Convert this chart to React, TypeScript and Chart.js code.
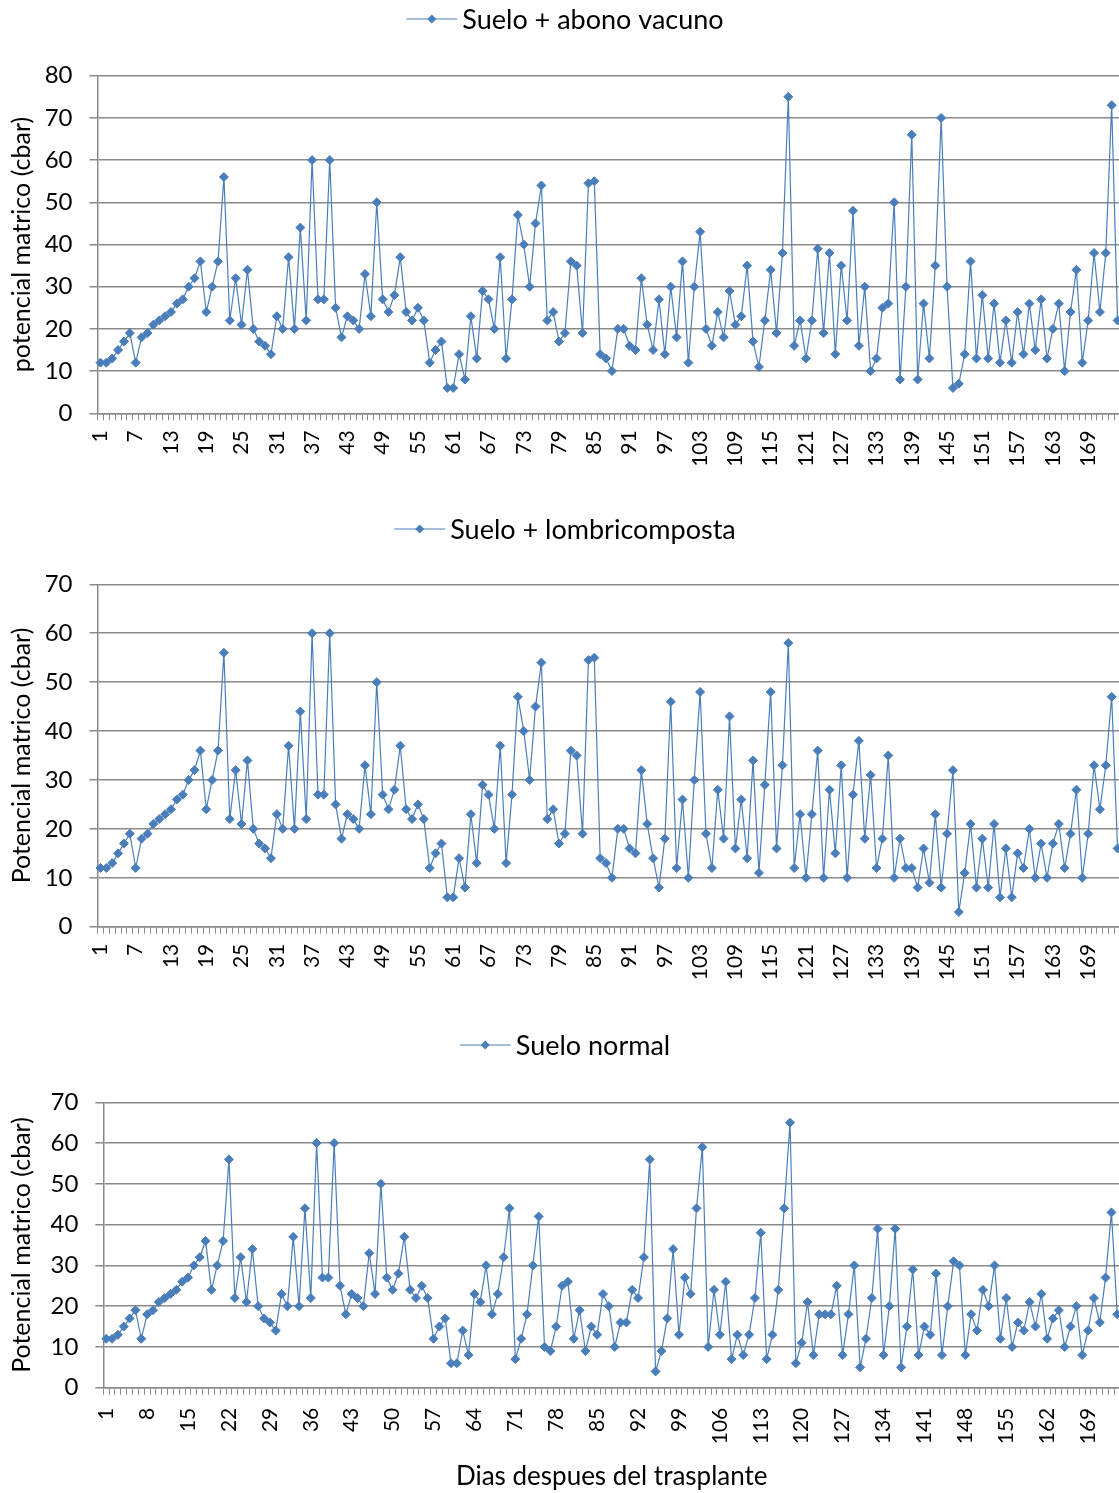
import React, { useEffect, useRef } from 'react';
import { Chart, registerables } from 'chart.js';

Chart.register(...registerables);

// Categories: days after transplant (174 visible)
const days: string[] = Array.from({ length: 174 }, (_, i) => String(i + 1));

const abonoVacuno: number[] = [
  12, 12, 13, 15, 17, 19, 12, 18, 19, 21,
  22, 23, 24, 26, 27, 30, 32, 36, 24, 30,
  36, 56, 22, 32, 21, 34, 20, 17, 16, 14,
  23, 20, 37, 20, 44, 22, 60, 27, 27, 60,
  25, 18, 23, 22, 20, 33, 23, 50, 27, 24,
  28, 37, 24, 22, 25, 22, 12, 15, 17, 6,
  6, 14, 8, 23, 13, 29, 27, 20, 37, 13,
  27, 47, 40, 30, 45, 54, 22, 24, 17, 19,
  36, 35, 19, 54.5, 55, 14, 13, 10, 20, 20,
  16, 15, 32, 21, 15, 27, 14, 30, 18, 36,
  12, 30, 43, 20, 16, 24, 18, 29, 21, 23,
  35, 17, 11, 22, 34, 19, 38, 75, 16, 22,
  13, 22, 39, 19, 38, 14, 35, 22, 48, 16,
  30, 10, 13, 25, 26, 50, 8, 30, 66, 8,
  26, 13, 35, 70, 30, 6, 7, 14, 36, 13,
  28, 13, 26, 12, 22, 12, 24, 14, 26, 15,
  27, 13, 20, 26, 10, 24, 34, 12, 22, 38,
  24, 38, 73, 22,
];

const lombricomposta: number[] = [
  12, 12, 13, 15, 17, 19, 12, 18, 19, 21,
  22, 23, 24, 26, 27, 30, 32, 36, 24, 30,
  36, 56, 22, 32, 21, 34, 20, 17, 16, 14,
  23, 20, 37, 20, 44, 22, 60, 27, 27, 60,
  25, 18, 23, 22, 20, 33, 23, 50, 27, 24,
  28, 37, 24, 22, 25, 22, 12, 15, 17, 6,
  6, 14, 8, 23, 13, 29, 27, 20, 37, 13,
  27, 47, 40, 30, 45, 54, 22, 24, 17, 19,
  36, 35, 19, 54.5, 55, 14, 13, 10, 20, 20,
  16, 15, 32, 21, 14, 8, 18, 46, 12, 26,
  10, 30, 48, 19, 12, 28, 18, 43, 16, 26,
  14, 34, 11, 29, 48, 16, 33, 58, 12, 23,
  10, 23, 36, 10, 28, 15, 33, 10, 27, 38,
  18, 31, 12, 18, 35, 10, 18, 12, 12, 8,
  16, 9, 23, 8, 19, 32, 3, 11, 21, 8,
  18, 8, 21, 6, 16, 6, 15, 12, 20, 10,
  17, 10, 17, 21, 12, 19, 28, 10, 19, 33,
  24, 33, 47, 16,
];

const sueloNormal: number[] = [
  12, 12, 13, 15, 17, 19, 12, 18, 19, 21,
  22, 23, 24, 26, 27, 30, 32, 36, 24, 30,
  36, 56, 22, 32, 21, 34, 20, 17, 16, 14,
  23, 20, 37, 20, 44, 22, 60, 27, 27, 60,
  25, 18, 23, 22, 20, 33, 23, 50, 27, 24,
  28, 37, 24, 22, 25, 22, 12, 15, 17, 6,
  6, 14, 8, 23, 21, 30, 18, 23, 32, 44,
  7, 12, 18, 30, 42, 10, 9, 15, 25, 26,
  12, 19, 9, 15, 13, 23, 20, 10, 16, 16,
  24, 22, 32, 56, 4, 9, 17, 34, 13, 27,
  23, 44, 59, 10, 24, 13, 26, 7, 13, 8,
  13, 22, 38, 7, 13, 24, 44, 65, 6, 11,
  21, 8, 18, 18, 18, 25, 8, 18, 30, 5,
  12, 22, 39, 8, 20, 39, 5, 15, 29, 8,
  15, 13, 28, 8, 20, 31, 30, 8, 18, 14,
  24, 20, 30, 12, 22, 10, 16, 14, 21, 15,
  23, 12, 17, 19, 10, 15, 20, 8, 14, 22,
  16, 27, 43, 18,
];

const LINE_COLOR = '#4a7ebb';
const GRID_COLOR = '#8a8a8a';
const FONT = 'Lato, "Open Sans", sans-serif';

type PanelSpec = {
  top: number;
  height: number;
  data: number[];
  legend: string;
  legendY: number;
  yTitle: string;
  yMax: number;
  padTop: number;
  padRight: number;
  xAxisHeight: number;
  yAxisWidth: number;
  labelEvery: number;
  tickPad: number;
  xTitle?: string;
};

const CANVAS_W = 1130;

const panels: PanelSpec[] = [
  {
    top: 0, height: 490, data: abonoVacuno, legend: 'Suelo + abono vacuno', legendY: 19,
    yTitle: 'potencial matrico (cbar)', yMax: 80, padTop: 75.7, padRight: 9.5,
    xAxisHeight: 76.7, yAxisWidth: 97.5, labelEvery: 6, tickPad: 10,
  },
  {
    top: 490, height: 520, data: lombricomposta, legend: 'Suelo + lombricomposta', legendY: 39,
    yTitle: 'Potencial matrico (cbar)', yMax: 70, padTop: 94.3, padRight: 9.5,
    xAxisHeight: 83.3, yAxisWidth: 97.5, labelEvery: 6, tickPad: 10,
  },
  {
    top: 1010, height: 483, data: sueloNormal, legend: 'Suelo normal', legendY: 35,
    yTitle: 'Potencial matrico (cbar)', yMax: 70, padTop: 92.3, padRight: 9.8,
    xAxisHeight: 105.3, yAxisWidth: 103.3, labelEvery: 7, tickPad: 13,
    xTitle: 'Dias despues del trasplante',
  },
];

const lineLegend = {
  id: 'lineLegend',
  afterDraw(chart: any, _args: any, opts: any) {
    const { ctx } = chart;
    ctx.save();
    ctx.font = `27px ${FONT}`;
    const tw = ctx.measureText(opts.text).width;
    const total = 51 + 5 + tw;
    const x0 = opts.cx - total / 2;
    const cy = opts.cy;
    ctx.strokeStyle = LINE_COLOR;
    ctx.lineWidth = 1.2;
    ctx.beginPath();
    ctx.moveTo(x0, cy);
    ctx.lineTo(x0 + 51, cy);
    ctx.stroke();
    ctx.fillStyle = LINE_COLOR;
    const dx = x0 + 25.5;
    ctx.beginPath();
    ctx.moveTo(dx, cy - 4.5);
    ctx.lineTo(dx + 4.5, cy);
    ctx.lineTo(dx, cy + 4.5);
    ctx.lineTo(dx - 4.5, cy);
    ctx.closePath();
    ctx.fill();
    ctx.fillStyle = '#000';
    ctx.textAlign = 'left';
    ctx.textBaseline = 'middle';
    ctx.fillText(opts.text, x0 + 56, cy + 1);
    ctx.restore();
  },
};

function Panel({ spec }: { spec: PanelSpec }) {
  const ref = useRef<HTMLCanvasElement | null>(null);
  useEffect(() => {
    let chart: Chart | null = null;
    let cancelled = false;
    const build = () => {
      if (cancelled || !ref.current) return;
      chart = new Chart(ref.current, {
        type: 'line',
        data: {
          labels: days,
          datasets: [
            {
              label: spec.legend,
              data: spec.data,
              borderColor: LINE_COLOR,
              backgroundColor: LINE_COLOR,
              borderWidth: 1.2,
              pointStyle: 'rectRot',
              pointRadius: 4.5,
              pointBackgroundColor: LINE_COLOR,
              pointBorderColor: LINE_COLOR,
              pointBorderWidth: 1,
              tension: 0,
            },
          ],
        },
        options: {
          responsive: false,
          animation: false,
          devicePixelRatio: 1,
          layout: { padding: { top: spec.padTop, right: spec.padRight, bottom: 0, left: 0 } },
          plugins: {
            legend: { display: false },
            tooltip: { enabled: false },
            lineLegend: { text: spec.legend, cx: 565, cy: spec.legendY },
          } as any,
          scales: {
            x: {
              type: 'category',
              offset: true,
              grid: {
                display: true,
                offset: true,
                drawOnChartArea: false,
                drawTicks: true,
                tickLength: 7,
                color: GRID_COLOR,
                lineWidth: 1,
              },
              border: { display: true, color: GRID_COLOR, width: 1.5 },
              ticks: {
                autoSkip: false,
                maxRotation: 90,
                minRotation: 90,
                padding: spec.tickPad,
                color: '#000',
                font: { family: FONT, size: 21 },
                callback: (_v: any, i: number) => (i % spec.labelEvery === 0 ? days[i] : ''),
              },
              title: spec.xTitle
                ? { display: true, text: spec.xTitle, color: '#000', font: { family: FONT, size: 26 }, padding: { top: 2, bottom: 1 } }
                : { display: false },
              afterFit: (s: any) => {
                s.height = spec.xAxisHeight;
                s.paddingLeft = 0;
                s.paddingRight = 0;
              },
            },
            y: {
              min: 0,
              max: spec.yMax,
              ticks: {
                stepSize: 10,
                padding: 17,
                color: '#000',
                font: { family: FONT, size: 24 },
              },
              grid: { color: GRID_COLOR, lineWidth: 1.5, tickLength: 8, drawTicks: true },
              border: { display: true, color: GRID_COLOR, width: 1.5 },
              title: {
                display: true,
                text: spec.yTitle,
                color: '#000',
                font: { family: FONT, size: 25 },
                padding: { top: 7, bottom: 0 },
              },
              afterFit: (s: any) => { s.width = spec.yAxisWidth; },
            },
          },
        },
        plugins: [lineLegend],
      });
    };
    if ((document as any).fonts && (document as any).fonts.load) {
      (document as any).fonts.load(`22px Lato`).then(build, build);
    } else {
      build();
    }
    return () => {
      cancelled = true;
      if (chart) chart.destroy();
    };
  }, [spec]);
  return (
    <canvas
      ref={ref}
      width={CANVAS_W}
      height={spec.height}
      style={{ position: 'absolute', left: 0, top: spec.top, width: CANVAS_W, height: spec.height, display: 'block' }}
    />
  );
}

export default function App() {
  return (
    <div
      style={{
        position: 'absolute',
        left: 0,
        top: 0,
        width: 1119,
        height: 1493,
        overflow: 'hidden',
        background: '#fff',
      }}
    >
      {panels.map((p, i) => (
        <Panel key={i} spec={p} />
      ))}
    </div>
  );
}
